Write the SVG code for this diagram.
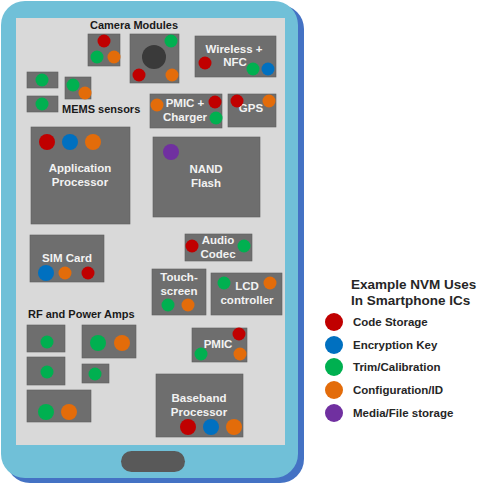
<svg xmlns="http://www.w3.org/2000/svg" width="480" height="486" viewBox="0 0 480 486">
<style>
.chip{fill:#6e6e6e;stroke:#5f5f5f;stroke-width:0.6}
.t{font-family:"Liberation Sans",Arial,sans-serif;font-weight:bold;font-size:11.5px;fill:#f2f2f2;text-anchor:middle}
.h{font-family:"Liberation Sans",Arial,sans-serif;font-weight:bold;font-size:11px;fill:#1a1a1a}
.lg{font-family:"Liberation Sans",Arial,sans-serif;font-weight:bold;font-size:11.5px;fill:#262626}
.lt{font-family:"Liberation Sans",Arial,sans-serif;font-weight:bold;font-size:13.5px;fill:#262626}
.r{fill:#c00000}.b{fill:#0070c0}.g{fill:#00b050}.o{fill:#e36c0a}.p{fill:#7030a0}
</style>
<g id="phone">
<rect x="6" y="5" width="298" height="478" rx="24" fill="#4472c4"/>
<rect x="1" y="1" width="297" height="477" rx="24" fill="#70c0d8"/>
<rect x="16" y="18" width="269" height="427" fill="#d9d9d9"/>
<rect x="121" y="451" width="64" height="21" rx="10.5" fill="#595959"/>
</g>
<g id="camera-small">
<rect class="chip" x="88" y="34" width="32" height="32"/>
<circle class="r" cx="104" cy="41" r="6.5"/><circle class="g" cx="97" cy="57" r="6.5"/><circle class="o" cx="114" cy="57" r="6.5"/>
</g>
<g id="camera-big">
<rect class="chip" x="130" y="34" width="49" height="49"/>
<circle cx="154" cy="57" r="12" fill="#3a3a3a"/>
<circle class="g" cx="171" cy="41" r="6.5"/><circle class="r" cx="139" cy="75" r="6.5"/><circle class="o" cx="172" cy="75" r="6.5"/>
</g>
<text class="h" x="134" y="29" text-anchor="middle">Camera Modules</text>
<g id="wireless">
<rect class="chip" x="195" y="36" width="81" height="41"/>
<text class="t" x="234" y="53">Wireless +</text><text class="t" x="235" y="66">NFC</text>
<circle class="r" cx="205" cy="63" r="6.5"/><circle class="g" cx="253" cy="69" r="6.5"/><circle class="b" cx="268" cy="69" r="6.5"/>
</g>
<g id="mems">
<rect class="chip" x="27" y="72" width="31" height="16"/><circle class="g" cx="42" cy="80" r="6.5"/>
<rect class="chip" x="65" y="77" width="26" height="22"/><circle class="g" cx="73" cy="85" r="6.5"/><circle class="o" cx="85" cy="93" r="6.5"/>
<rect class="chip" x="27" y="96" width="31" height="16"/><circle class="g" cx="42" cy="104" r="6.5"/>
<text class="h" x="62" y="113">MEMS sensors</text>
</g>
<g id="pmic-charger">
<rect class="chip" x="150" y="94" width="72" height="34"/>
<text class="t" x="185" y="107">PMIC +</text><text class="t" x="185" y="121">Charger</text>
<circle class="o" cx="157" cy="105" r="6.5"/><circle class="r" cx="215" cy="102" r="6.5"/><circle class="g" cx="216" cy="118" r="6.5"/>
</g>
<g id="gps">
<rect class="chip" x="228" y="94" width="48" height="33"/>
<text class="t" x="251" y="112">GPS</text>
<circle class="r" cx="237" cy="101" r="6.5"/><circle class="o" cx="269" cy="101" r="6.5"/>
</g>
<g id="app-processor">
<rect class="chip" x="31" y="127" width="99" height="97"/>
<circle class="r" cx="47" cy="142" r="8"/><circle class="b" cx="70" cy="142" r="8"/><circle class="o" cx="93" cy="142" r="8"/>
<text class="t" x="80" y="172">Application</text><text class="t" x="80" y="186">Processor</text>
</g>
<g id="nand">
<rect class="chip" x="153" y="137" width="107" height="80"/>
<circle class="p" cx="171" cy="152" r="8"/>
<text class="t" x="206" y="173">NAND</text><text class="t" x="206" y="187">Flash</text>
</g>
<g id="sim">
<rect class="chip" x="30" y="235" width="74" height="47"/>
<text class="t" x="67" y="262">SIM Card</text>
<circle class="b" cx="46" cy="273" r="8"/><circle class="o" cx="65" cy="273" r="6.5"/><circle class="r" cx="88" cy="273" r="6.5"/>
</g>
<g id="audio">
<rect class="chip" x="185" y="234" width="67" height="27"/>
<text class="t" x="218" y="244">Audio</text><text class="t" x="218" y="258">Codec</text>
<circle class="r" cx="192" cy="246" r="6.5"/><circle class="g" cx="244" cy="246" r="6.5"/>
</g>
<g id="touch">
<rect class="chip" x="152" y="269" width="54" height="46"/>
<text class="t" x="179" y="281">Touch-</text><text class="t" x="179" y="295">screen</text>
<circle class="g" cx="168" cy="305" r="6.5"/><circle class="o" cx="188" cy="305" r="6.5"/>
</g>
<g id="lcd">
<rect class="chip" x="211" y="273" width="71" height="42"/>
<circle class="g" cx="224" cy="283" r="6.5"/><circle class="o" cx="270" cy="283" r="6.5"/>
<text class="t" x="247" y="290">LCD</text><text class="t" x="247" y="304">controller</text>
</g>
<text class="h" x="28" y="318">RF and Power Amps</text>
<g id="rf">
<rect class="chip" x="27" y="325" width="38" height="27"/><circle class="g" cx="47" cy="342" r="6.5"/>
<rect class="chip" x="82" y="325" width="54" height="33"/><circle class="g" cx="98" cy="343" r="8"/><circle class="o" cx="122" cy="343" r="8"/>
<rect class="chip" x="27" y="357" width="38" height="28"/><circle class="g" cx="47" cy="372" r="6.5"/>
<rect class="chip" x="82" y="364" width="27" height="19"/><circle class="g" cx="95" cy="374" r="6.5"/>
<rect class="chip" x="27" y="390" width="64" height="32"/><circle class="g" cx="46" cy="412" r="8"/><circle class="o" cx="69" cy="412" r="8"/>
</g>
<g id="pmic">
<rect class="chip" x="192" y="328" width="55" height="34"/>
<text class="t" x="218" y="348">PMIC</text>
<circle class="r" cx="239" cy="334" r="6.5"/><circle class="g" cx="201" cy="354" r="6.5"/><circle class="o" cx="240" cy="354" r="6.5"/>
</g>
<g id="baseband">
<rect class="chip" x="156" y="374" width="87" height="63"/>
<text class="t" x="199" y="402">Baseband</text><text class="t" x="199" y="416">Processor</text>
<circle class="r" cx="188" cy="427" r="8"/><circle class="b" cx="211" cy="427" r="8"/><circle class="o" cx="234" cy="427" r="8"/>
</g>
<g id="legend">
<text class="lt" x="351" y="289">Example NVM Uses</text>
<text class="lt" x="351" y="305">In Smartphone ICs</text>
<circle class="r" cx="334" cy="322" r="9"/><text class="lg" x="353" y="326">Code Storage</text>
<circle class="b" cx="334" cy="345" r="9"/><text class="lg" x="353" y="349">Encryption Key</text>
<circle class="g" cx="334" cy="367" r="9"/><text class="lg" x="353" y="371">Trim/Calibration</text>
<circle class="o" cx="334" cy="390" r="9"/><text class="lg" x="353" y="394">Configuration/ID</text>
<circle class="p" cx="334" cy="413" r="9"/><text class="lg" x="353" y="417">Media/File storage</text>
</g>
</svg>
